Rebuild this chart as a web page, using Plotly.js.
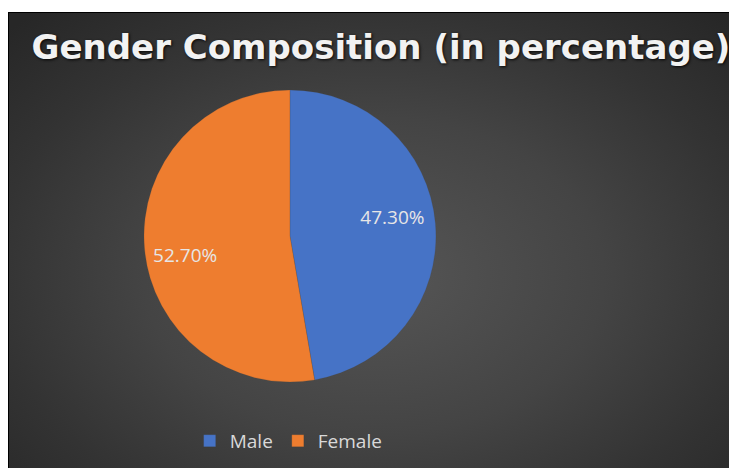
<!DOCTYPE html>
<html>
<head>
<meta charset="utf-8">
<script src="https://cdn.plot.ly/plotly-3.0.1.min.js"></script>
<style>
  html, body { margin:0; padding:0; background:#ffffff; }
  #wrap { position:relative; width:729px; height:468px; overflow:hidden; background:#ffffff; }
  #bg { position:absolute; left:8px; top:12px; width:730px; height:470px;
        border-top:1px solid #000; border-left:1px solid #000;
        background: radial-gradient(ellipse 70% 75% at 50% 56%, #565656 0%, #444444 45%, #333333 75%, #272727 100%); }
  #chart { position:absolute; left:0; top:0; width:729px; height:468px; }
</style>
</head>
<body>
<div id="wrap">
  <div id="bg"></div>
  <div id="chart"></div>
</div>
<script>
const categories = ["Male", "Female"];
const percentages = [47.30, 52.70];
const sliceColors = ["#4673C6", "#EE7D2F"];
const chartTitle = "Gender Composition (in percentage)";

const NB = "\u00a0";
// label templates: padding only nudges the label inside its slice
const labelTemplates = [
  NB.repeat(12) + "%{value:.2f}%<br>" + NB,
  NB + "<br>%{value:.2f}%" + NB.repeat(13)
];

const trace = {
  type: "pie",
  labels: categories,
  values: percentages,
  sort: false,
  direction: "clockwise",
  rotation: 0,
  marker: { colors: sliceColors, line: { color: "rgba(70,70,70,0.35)", width: 0.5 } },
  texttemplate: labelTemplates,
  textposition: "inside",
  insidetextorientation: "horizontal",
  textfont: { family: "Open Sans", size: 19, color: "#e6e6e6" },
  hoverinfo: "none",
  domain: { x: [0.1975, 0.598], y: [0.1838, 0.8077] }
};

const layout = {
  width: 729,
  height: 468,
  margin: { l: 0, r: 0, t: 0, b: 0 },
  paper_bgcolor: "rgba(0,0,0,0)",
  plot_bgcolor: "rgba(0,0,0,0)",
  title: {
    text: chartTitle,
    x: 0.5226, xanchor: "center", xref: "paper",
    y: 0.90, yanchor: "middle", yref: "paper",
    font: { family: "DejaVu Sans", size: 34, weight: 700, color: "#f2f2f2",
            shadow: "1px 1px 3px rgba(0,0,0,0.9)" }
  },
  showlegend: true,
  legend: {
    orientation: "h",
    x: 0.396, xanchor: "center",
    y: 0.058, yanchor: "middle",
    bgcolor: "rgba(0,0,0,0)",
    font: { family: "Open Sans", size: 19, color: "#d9d9d9" },
    itemwidth: 30
  }
};

Plotly.newPlot("chart", [trace], layout, { displayModeBar: false, staticPlot: true });
</script>
</body>
</html>
